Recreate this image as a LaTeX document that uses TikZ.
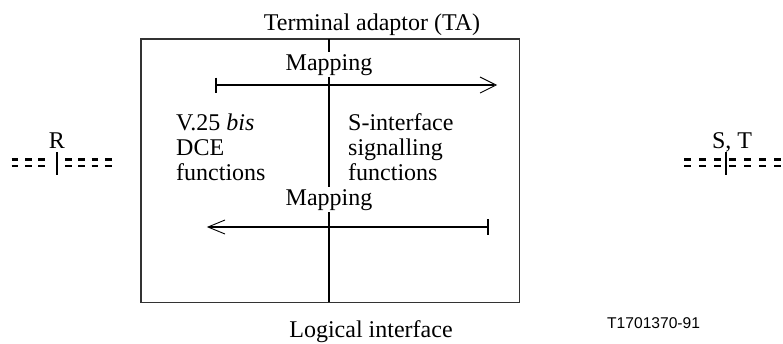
\documentclass[tikz,border=0pt]{standalone}
\usepackage{fontspec}
\setmainfont{Liberation Serif}
\newfontfamily\codefont{Liberation Sans}
\usetikzlibrary{arrows.meta}
\begin{document}
\begin{tikzpicture}[x=1pt,y=-1pt,
  txt/.style={font=\fontsize{24}{25}\selectfont, inner sep=0pt, anchor=base},
  block/.style={txt, align=left, anchor=base west},
  maplabel/.style={txt, anchor=base, fill=white, inner xsep=1pt, inner ysep=2pt},
  boxline/.style={draw=black!80, line width=1.3pt},
  axis/.style={line width=2pt},
  shaft/.style={line width=2pt},
  barb/.style={line width=0.9pt},
  bus/.style={line width=2.4pt, dash pattern=on 6.7pt off 6.6pt},
  tickmark/.style={line width=2pt}]
\useasboundingbox (0,0) rectangle (783,343);

% terminal adaptor frame
\node[draw=none, inner sep=0pt, minimum width=378pt, minimum height=263pt, anchor=north west] (ta) at (141,39) {};
\draw[boxline] (ta.north west) rectangle (ta.south east);

% labels around the frame
\node[txt] (title) at (372,30) {Terminal adaptor (TA)};
\node[txt] (logical) at (371,337) {Logical interface};
\node[font=\codefont\fontsize{15.6}{17}\selectfont, inner sep=0pt, anchor=base west] (ref) at (607,328) {T1701370-91};

% function blocks (anchored at the baseline of their last line)
\node[block] (dce) at (176,180) {V.25 \textit{bis}\\DCE\\functions};
\node[block] (sif) at (348,180) {S-interface\\signalling\\functions};

% mapping labels on the logical interface
\node[maplabel] (map1) at (329,70) {Mapping};
\node[maplabel] (map2) at (329,205) {Mapping};

% logical interface line, interrupted by the labels
\coordinate (ltop) at (329,39);
\coordinate (lbot) at (329,302);
\draw[axis] (ltop) -- (map1.north);
\draw[axis] (map1.south) -- (map2.north);
\draw[axis] (map2.south) -- (lbot);

% upper mapping arrow (left to right)
\coordinate (a1s) at (216,85);
\coordinate (a1e) at (496,85);
\draw[tickmark] (216,77.5) -- (216,93);
\draw[shaft] (a1s) -- ([xshift=-2pt]a1e);
\draw[barb] (480,77) -- (a1e) -- (480,93);

% lower mapping arrow (right to left)
\coordinate (a2s) at (488,227);
\coordinate (a2e) at (208,227);
\draw[tickmark] (488,219) -- (488,235);
\draw[shaft] (a2s) -- ([xshift=2pt]a2e);
\draw[barb] (225,220) -- (a2e) -- (225,234);

% R reference point
\node[txt] (rlab) at (57,148) {R};
\coordinate (r1) at (11.7,159.5);
\coordinate (r2) at (45,159.5);
\coordinate (r3) at (65,159.5);
\coordinate (r4) at (112,159.5);
\foreach \dy in {0,6.5}{
  \draw[bus] ([yshift=-\dy pt]r1) -- ([yshift=-\dy pt]r2);
  \draw[bus] ([yshift=-\dy pt]r3) -- ([yshift=-\dy pt]r4);
}
\draw[tickmark] (57.3,152) -- (57.3,175);

% S, T reference point
\node[txt] (stlab) at (732,148) {S, T};
\coordinate (s1) at (684,159.5);
\coordinate (s2) at (783,159.5);
\foreach \dy in {0,6.5}{
  \draw[bus, dash pattern=on 7pt off 8pt] ([yshift=-\dy pt]s1) -- ([yshift=-\dy pt]s2);
}
\draw[tickmark] (726,152) -- (726,175);
\end{tikzpicture}
\end{document}
